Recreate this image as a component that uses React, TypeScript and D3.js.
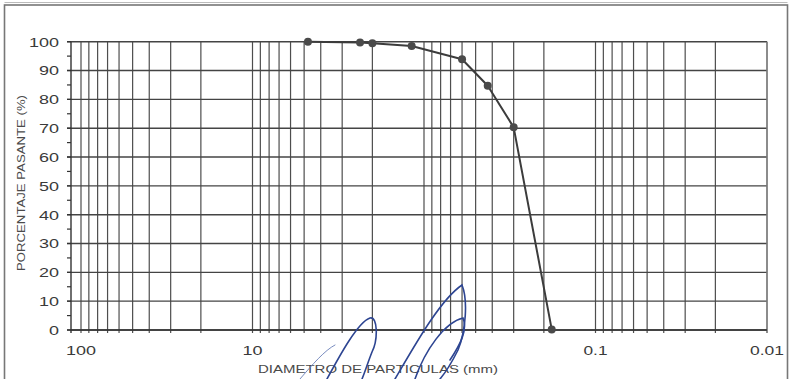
import React from "react";
import * as d3 from "d3";

// Grain size distribution data (sieve opening mm, % passing)
const diameters = [4.75, 2.36, 2.0, 1.18, 0.6, 0.425, 0.3, 0.18];
const passing = [100, 99.7, 99.5, 98.5, 93.9, 84.7, 70.3, 0.2];
const yTickValues = [0, 10, 20, 30, 40, 50, 60, 70, 80, 90, 100];
const xLabelValues = [100, 10, 0.1, 0.01];
const xLabelTexts = ["100", "10", "0.1", "0.01"];

const W = 793;
const H = 379;
const FONT = "'Liberation Sans', Arial, sans-serif";

const labelLen = (s: string) =>
  s.split("").reduce((a, c) => a + (c === "." ? 4 : 10), 0);

export default function App() {
  const x = d3.scaleLog().domain([100, 0.01]).range([81, 767]);
  const y = d3.scaleLinear().domain([0, 100]).range([330, 41.7]);
  const left = 71;
  const right = x(0.01);
  const top = y(100);
  const bottom = y(0);

  const gridX = x.ticks();
  const minorY = d3.range(0, 101, 5);
  const pts = diameters.map((d, i) => [x(d), y(passing[i])] as [number, number]);
  const line = d3.line().curve(d3.curveLinear)(pts) || "";

  return (
    <svg
      width={W}
      height={H}
      style={{ position: "fixed", left: 0, top: 0, background: "#fff" }}
      fontFamily={FONT}
    >
      <rect x={0} y={0} width={W} height={H} fill="#fff" />
      {/* outer frame */}
      <rect x={4.5} y={5} width={783} height={400} fill="none" stroke="#777" strokeWidth={1.6} />
      <line x1={4.5} x2={787.5} y1={2.5} y2={2.5} stroke="#bbb" strokeWidth={1} />

      {/* vertical grid */}
      {gridX.map((v, i) => (
        <line key={"gx" + i} x1={x(v)} x2={x(v)} y1={top} y2={bottom + 3} stroke="#4e4e4e" strokeWidth={1.2} />
      ))}
      {/* horizontal grid */}
      {yTickValues.map((v) => (
        <line key={"gy" + v} x1={left - 4} x2={right} y1={y(v)} y2={y(v)} stroke="#444" strokeWidth={1.4} />
      ))}
      {/* left axis */}
      <line x1={left} x2={left} y1={top} y2={bottom + 3} stroke="#333" strokeWidth={1.4} />
      {minorY.map((v) => (
        <line key={"ty" + v} x1={left - 4} x2={left} y1={y(v)} y2={y(v)} stroke="#333" strokeWidth={1.2} />
      ))}
      <line x1={right} x2={right} y1={top} y2={bottom + 3} stroke="#888" strokeWidth={1.3} />
      <line x1={left} x2={right} y1={bottom} y2={bottom} stroke="#333" strokeWidth={1.6} />

      {/* y tick labels */}
      {yTickValues.map((v) => (
        <text
          key={"ly" + v}
          x={59}
          y={y(v)}
          dy="0.36em"
          textAnchor="end"
          fontSize={13.5}
          fill="#3a3a3a"
          textLength={labelLen(String(v))}
          lengthAdjust="spacingAndGlyphs"
        >
          {v}
        </text>
      ))}
      {/* x tick labels */}
      {xLabelValues.map((v, i) => (
        <text
          key={"lx" + i}
          x={x(v)}
          y={355}
          textAnchor="middle"
          fontSize={13.5}
          fill="#3a3a3a"
          textLength={labelLen(xLabelTexts[i])}
          lengthAdjust="spacingAndGlyphs"
        >
          {xLabelTexts[i]}
        </text>
      ))}

      {/* axis titles */}
      <text
        transform={`translate(25,183) rotate(-90)`}
        textAnchor="middle"
        fontSize={11}
        fill="#4a4a4a"
        textLength={176}
        lengthAdjust="spacingAndGlyphs"
      >
        PORCENTAJE PASANTE (%)
      </text>
      <text x={258} y={373} fontSize={11} fill="#4a4a4a" textLength={240} lengthAdjust="spacingAndGlyphs">
        DIAMETRO DE PARTICULAS (mm)
      </text>

      {/* curve */}
      <path d={line} fill="none" stroke="#3c3c3c" strokeWidth={2} strokeLinejoin="round" />
      {pts.map((p, i) => (
        <circle key={"p" + i} cx={p[0]} cy={p[1]} r={4} fill="#4a4a4a" />
      ))}

      {/* signature (decorative) */}
      <g fill="none" stroke="#2d4592" strokeWidth={1.6} strokeLinecap="round">
        <path d="M327,379 C340,355 358,322 370,318 C378,316 378,340 372,352 C368,362 365,372 362,379" />
        <path d="M395,379 C415,345 440,300 462,285 C468,300 466,330 458,350 C452,362 446,372 440,379" />
        <path d="M415,379 C425,350 445,322 463,318 C468,330 460,345 450,360" />
        <path d="M300,379 C312,365 325,350 335,345" strokeWidth={0.9} stroke="#6a7fb8" />
      </g>
    </svg>
  );
}
